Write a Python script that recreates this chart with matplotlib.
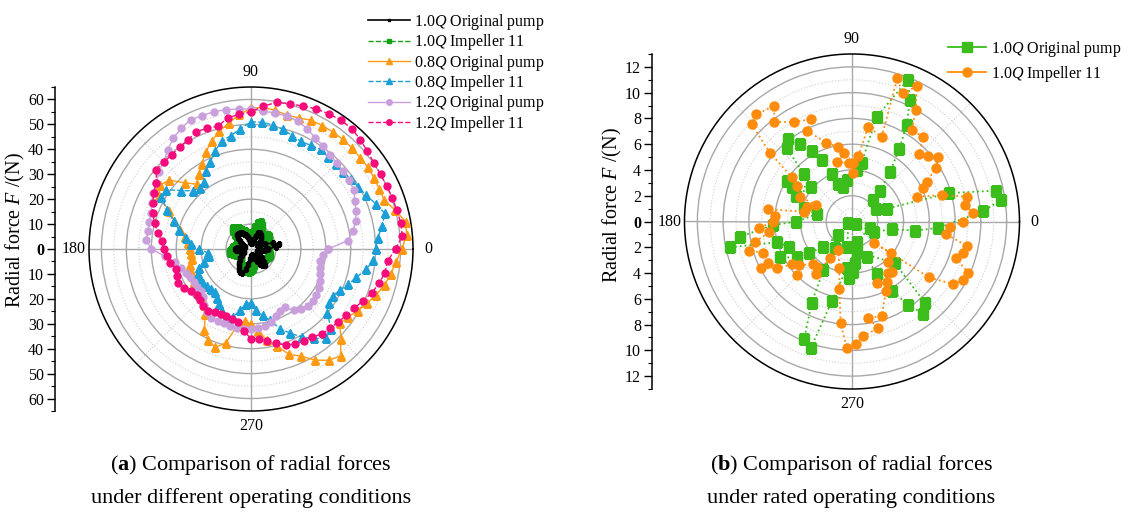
import numpy as np
import matplotlib.pyplot as plt
from matplotlib.lines import Line2D

plt.rcParams['font.family'] = ['Liberation Serif', 'DejaVu Serif']
plt.rcParams['mathtext.fontset'] = 'custom'
plt.rcParams['mathtext.rm'] = 'Liberation Serif'
plt.rcParams['mathtext.it'] = 'Liberation Serif:italic'
plt.rcParams['mathtext.bf'] = 'Liberation Serif:bold'

# circumferential position of each sample (deg)
angle = np.arange(0, 360, 5)

# radial force (N) at each position, three flow rates
orig_10 = [7, 10, 11.6, 9, 6, 4, 3, 3.5, 4.5, 5.5, 6.5, 7, 7.2, 7, 5.5, 4, 3, 2.5, 2.5, 3,
           4, 5, 6, 6.8, 7.4, 7.8, 8, 8.1, 7, 5.5, 4, 3, 2.5, 3, 4, 5.5, 6.5, 6, 4.5, 3.5,
           3, 3, 3.5, 4.5, 5.5, 6.5, 7.5, 8.5, 9.5, 10.2, 10.3, 8.5, 6, 4, 3, 2.5, 2.5, 3, 4, 5.5,
           7, 8, 8.6, 7.5, 5.5, 4, 3, 2.5, 2.5, 3, 4, 5.5]
imp_10 = [7, 6.5, 6, 6.2, 6.8, 7.5, 8.2, 8.8, 9, 8, 7, 7.5, 9, 10.5, 11.6, 11, 9, 7, 5.5, 5,
          5.5, 6.5, 7.5, 8.5, 9.5, 10.5, 11, 10, 8.5, 7, 6, 5.5, 5.5, 6, 6.5, 7.2, 7.8, 8.3, 8.5, 7.5,
          6.5, 5.5, 5, 5, 5.3, 5.8, 6.3, 6.8, 7.2, 7.6, 8, 8.5, 8.9, 9.1, 8.8, 8, 7, 6, 5.5, 5,
          5, 5.3, 5.8, 6.3, 6.8, 7.2, 7.6, 7.9, 8, 7.8, 7.5, 7.2]
orig_08 = [60.5, 62.7, 63, 60, 57, 56.8, 57, 57.2, 57.1, 57.3, 57.4, 57.3, 57.2, 57, 56, 55.6, 56.5, 57, 56.5, 54.2,
           51.3, 49, 46, 43, 39.5, 36.5, 34, 37.5, 43, 44.6, 42.5, 36.5, 32.8, 29.6, 27, 25.4, 24.3, 24, 24.2, 25.5,
           25.8, 26, 26.2, 26.5, 27, 27.8, 29.5, 32, 37.5, 40.5, 42, 39, 31, 29, 30, 33, 37.2, 40.5, 45, 47.5,
           51.5, 54.5, 56, 51, 46.5, 47.5, 49.5, 51.5, 53.5, 55.5, 57, 58.5]
imp_08 = [50, 51, 53.5, 55.5, 53.2, 51, 49.7, 49, 48, 48.3, 48.2, 48.8, 48, 47.6, 48.4, 49.7, 50.5, 51.1, 51, 48.5,
          46.2, 44.9, 42, 38.6, 36.3, 33, 32, 33, 36.5, 41.5, 41.5, 37.4, 33, 30, 26.5, 24, 21, 17.5, 17, 19.5,
          22, 23.4, 23.5, 23.7, 23, 22.8, 22.6, 24, 25.5, 27.5, 30.5, 28.2, 25, 22, 21.5, 24.7, 27, 29.6, 34, 37.3,
          40.8, 43.8, 46.7, 45.5, 40, 38, 37.8, 39.2, 41.5, 43.8, 47, 49.3]
orig_12 = [31, 39, 41.5, 43.5, 44.8, 46, 47.6, 48, 48.4, 48.7, 49.4, 50.5, 51.5, 53.3, 54.6, 55.2, 55.5, 55.5, 56.2, 56.4,
           56.8, 57.1, 57, 57.2, 56, 54.3, 52, 49.5, 48.3, 46.3, 45.3, 44, 42.6, 42.3, 42, 42.1, 40, 34.5, 31, 29.2,
           27.8, 27, 26.6, 26.4, 26.3, 27.2, 29.2, 31, 32, 31.8, 31.8, 31.8, 32.3, 32.1, 32, 31.9, 31.5, 30.5, 28.8, 27.4,
           27.1, 30, 31.3, 32.3, 32.4, 32, 31.5, 30.5, 29.6, 28.8, 28.2, 28.9]
imp_12 = [58, 61, 61, 60.5, 60.4, 60, 60, 60.2, 61, 62, 63, 63, 62.6, 62, 61, 60.3, 59.8, 57.5, 55, 54.2,
          53.5, 51, 51.5, 52, 50.5, 50, 49.3, 49.5, 49.5, 46.5, 45, 43.5, 42, 40, 38, 36, 35, 34, 33, 31,
          31.5, 32.5, 31, 29.5, 28.5, 29, 30, 30.4, 29, 28.8, 28.8, 29, 29.7, 33, 36, 36.1, 37.3, 39.2, 41, 42,
          42.6, 43, 44.5, 45, 45.7, 46.5, 47.7, 49.5, 51.5, 53.3, 54.5, 55]

# rated flow: force components Fx, Fy (N) in time order
orig_fx = [0.3, 1.7, 3.1, 4.9, 6.7, 10.2, 11.6, 11.2, 7.5, 2.7, 1.9, 1.65, 2.2, 2.95, 3.67, 4.24, 4.5, 4.36,
           1.91, 0.75, 0.36, -0.41, -0.67, -1.06, -1.53, -2.35, -3.12, -4.03, -4.94, -5.06, -3.72, -5.02, -4.67,
           -3.2, -4.36, -3.72, -2.74, -4.34, -6.12, -8.68, -9.46, -5.79, -4.86, -5.58, -4.29, -3.31, -2.27, -1.06,
           -0.29, -0.36, -1.32, -2.22, -3.12, -3.72, -3.2, -1.57, -0.41, -0.2, 0.1, 0.23, 1.14, 1.91, 3.08, 4.36,
           5.53, 5.66, 3.33, 0.36, 0.36, 1.4]
orig_fy = [-0.2, -0.8, -0.6, -0.7, -0.5, 0.8, 1.7, 2.4, 2.2, 1.0, 1.0, 1.67, 2.4, 3.86, 5.6, 7.48, 9.42, 11.02,
           8.12, 4.56, 3.99, 3.22, 2.7, 2.91, 3.68, 4.77, 5.49, 5.98, 6.37, 5.67, 3.68, 3.16, 2.7,
           2.7, 1.98, 1.02, 0.56, -0.02, -0.27, -1.18, -2.0, -1.61, -2.0, -2.78, -2.78, -2.42, -2.0, -1.05,
           -0.14, -1.95, -2.08, -3.76, -6.29, -9.13, -9.83, -6.2, -3.63, -4.4, -3.89, -3.19, -2.78, -4.07, -5.36, -6.47,
           -7.17, -6.29, -3.24, -2.34, -1.57, -0.5]
imp_fx = [0.1, -0.21, -1.19, -0.62, -1.06, -2.02, -3.47, -3.2, -4.47, -6.02, -6.05, -7.44, -7.78, -6.36, -4.67,
          -4.29, -4.03, -2.79, -3.51, -3.72, -6.53, -5.97, -6.1, -7.19, -6.41, -7.52, -7.96, -6.88, -6.49, -7.05,
          -5.79, -4.67, -4.29, -4.09, -3.0, -2.74, -2.79, -1.71, -1.06, -0.98, -0.98, -0.88, -0.41, 0.31, 0.88,
          2.04, 1.26, 2.3, 2.64, 1.91, 2.69, 2.81, 3.08, 2.81, 3.02, 1.71, 5.97, 7.85, 8.58, 9.02, 8.06, 8.63,
          8.89, 7.29, 7.6, 8.63, 9.4, 8.76, 8.89, 6.95, 5.02, 5.53, 5.79, 6.51, 6.69, 5.91, 5.22, 5.53, 4.63,
          4.94, 5.02, 3.93, 3.51, 2.3, 1.26, 0.49, 0.1]
imp_fy = [3.78, 4.51, 4.64, 5.29, 5.8, 6.11, 7.04, 7.92, 7.74, 7.71, 8.95, 8.31, 7.53, 5.33, 3.43,
          2.75, 1.92, 1.28, 1.15, 0.76, 0.95, 0.43, -0.02, -0.48, -0.84, -1.57, -2.26, -2.42, -3.24, -3.63,
          -3.63, -3.32, -4.15, -3.37, -3.32, -3.55, -4.07, -2.85, -2.21, -3.63, -5.26, -7.89, -9.83, -9.5, -8.88,
          -8.28, -7.5, -7.33, -5.39, -4.79, -4.67, -4.02, -3.89, -3.12, -2.47, -1.64, -4.33, -4.87, -4.53, -3.97, -2.85, -2.42,
          -1.88, -0.97, -0.45, -0.02, 0.68, 1.28, 1.92, 2.05, 1.92, 2.57, 3.09, 4.12, 5.02, 5.08, 5.23, 6.57, 7.09,
          8.64, 10.5, 9.94, 11.1, 6.57, 7.35, 5.08, 4.51]

W, H = 1134, 512
fig = plt.figure(figsize=(W / 100, H / 100), dpi=100)


def frac(x0, y0, x1, y1):
    # pixel box -> figure fraction rect
    return [x0 / W, 1 - y1 / H, (x1 - x0) / W, (y1 - y0) / H]


def style_polar(ax, rmax, major, minor):
    ax.set_ylim(0, rmax)
    ax.set_yticks(major)
    ax.set_yticks(minor, minor=True)
    ax.set_yticklabels([])
    ax.set_xticks(np.radians([0, 90, 180, 270]))
    ax.set_xticklabels(['0', '90', '180', '270'])
    ax.set_xticks(np.radians([45, 135, 225, 315]), minor=True)
    ax.grid(True, which='major', color='#a8a8a8', lw=1.0, ls='-')
    ax.grid(True, which='minor', color='#cfcfcf', lw=0.8, ls=':')
    ax.tick_params(axis='x', which='major', direction='inout', length=8, width=1,
                   pad=0, labelsize=11.5)
    ax.tick_params(axis='x', which='minor', direction='inout', length=5, width=0.8)
    ax.tick_params(axis='y', which='both', length=0)
    ax.spines['polar'].set_linewidth(1.1)
    ax.set_axisbelow(True)


def side_axis(rect, top, step, rmax):
    ax = fig.add_axes(rect)
    ax.set_ylim(-rmax, rmax)
    ax.set_xlim(0, 1)
    for s in ['top', 'right', 'bottom']:
        ax.spines[s].set_visible(False)
    ax.spines['left'].set_linewidth(1.1)
    ax.set_xticks([])
    ticks = np.arange(-top, top + step, step)
    ax.set_yticks(ticks)
    ax.set_yticklabels([f'{abs(t):g}' for t in ticks])
    for t, lab in zip(ticks, ax.get_yticklabels()):
        if t == 0:
            lab.set_fontweight('bold')
    ax.set_yticks(np.arange(-rmax, rmax + step / 2, step / 2), minor=True)
    ax.tick_params(axis='y', which='major', length=6, width=1, labelsize=11.5, pad=2)
    ax.tick_params(axis='y', which='minor', length=3, width=0.8)
    ax.patch.set_alpha(0)
    ax.set_ylabel(r'Radial force $F$ /(N)', fontsize=14.5)
    return ax


def closed(vals):
    return np.append(vals, vals[0])


th = np.radians(closed(angle))

# (a) three operating conditions
axa = fig.add_axes(frac(89, 87, 413, 411), projection='polar')
style_polar(axa, 65, np.arange(10, 61, 10), np.arange(5, 60, 10))
series_a = [
    (orig_10, r'1.0$Q$ Original pump', '#000000', '-', 's', 2.6, 1.2),
    (imp_10, r'1.0$Q$ Impeller 11', '#16a016', '--', 's', 3.8, 1.0),
    (orig_08, r'0.8$Q$ Original pump', '#ff9a12', '-', '^', 5.5, 1.0),
    (imp_08, r'0.8$Q$ Impeller 11', '#1c9fd6', '--', '^', 5.5, 1.0),
    (orig_12, r'1.2$Q$ Original pump', '#c9a0dc', '-', 'o', 5.0, 1.0),
    (imp_12, r'1.2$Q$ Impeller 11', '#f50c7a', '--', 'o', 5.0, 1.0),
]
handles_a = []
for i, (vals, lab, col, ls, mk, ms, lw) in enumerate(series_a):
    z = 4 if i == 0 else 3
    axa.plot(th, closed(vals), color=col, ls=ls, marker=mk, ms=ms, lw=lw, zorder=z)
    handles_a.append(Line2D([], [], color=col, ls=ls, marker=mk, ms=ms * 0.8, lw=lw))
side_axis(frac(55, 87, 57, 411), 60, 10, 65).yaxis.set_label_coords(
    27 / W, 1 - 230 / H, transform=fig.transFigure)
fig.legend(handles_a, [s[1] for s in series_a], loc='upper left',
           bbox_to_anchor=(368 / W, 1 - 12 / H), frameon=False, fontsize=11.5,
           handlelength=2.6, handletextpad=0.3, labelspacing=0.02,
           borderaxespad=0, borderpad=0)

# (b) rated condition
axb = fig.add_axes(frac(684.5, 54, 1019.5, 389), projection='polar')
style_polar(axb, 13, np.arange(2, 13, 2), np.arange(1, 12, 2))
ob_th = np.arctan2(orig_fy, orig_fx)
ob_r = np.hypot(orig_fx, orig_fy)
ib_th = np.arctan2(imp_fy, imp_fx)
ib_r = np.hypot(imp_fx, imp_fy)
axb.plot(ob_th, ob_r, color='#3cbd1c', ls=':', lw=1.3, marker='s', ms=6.5, zorder=3)
axb.plot(ib_th, ib_r, color='#ff8c0c', ls=':', lw=1.3, marker='o', ms=6.5, zorder=4)
side_axis(frac(652, 54, 654, 389), 12, 2, 13).yaxis.set_label_coords(
    624 / W, 1 - 205 / H, transform=fig.transFigure)
handles_b = [Line2D([], [], color='#3cbd1c', lw=1.3, marker='s', ms=6.5),
             Line2D([], [], color='#ff8c0c', lw=1.3, marker='o', ms=6.5)]
fig.legend(handles_b, [r'1.0$Q$ Original pump', r'1.0$Q$ Impeller 11'], loc='upper left',
           bbox_to_anchor=(948 / W, 1 - 39 / H), frameon=False, fontsize=11.5,
           handlelength=2.4, handletextpad=0.3, labelspacing=0.3,
           borderaxespad=0, borderpad=0)

# captions
fig.text(251 / W, 1 - 465 / H, r'($\mathbf{a}$) Comparison of radial forces',
         ha='center', va='center', fontsize=16)
fig.text(251 / W, 1 - 498 / H, 'under different operating conditions',
         ha='center', va='center', fontsize=16)
fig.text(851 / W, 1 - 465 / H, r'($\mathbf{b}$) Comparison of radial forces',
         ha='center', va='center', fontsize=16)
fig.text(851 / W, 1 - 498 / H, 'under rated operating conditions',
         ha='center', va='center', fontsize=16)

fig.savefig('out.png', dpi=100)
